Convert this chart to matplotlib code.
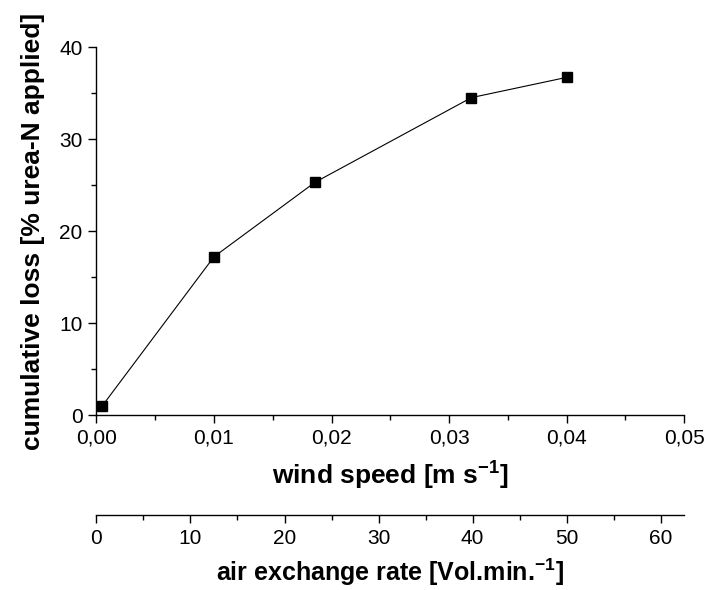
import matplotlib
matplotlib.use("Agg")
import matplotlib.pyplot as plt
from matplotlib.ticker import MultipleLocator, FuncFormatter

# data
wind_speed = [0.0005, 0.0100, 0.0186, 0.0319, 0.0400]   # m s-1
loss = [1.0, 17.2, 25.3, 34.5, 36.7]                      # % urea-N applied

# wind speed -> air exchange rate (Vol. min-1)
exch_factor = 1250.0
air_ticks = [0, 10, 20, 30, 40, 50, 60]

plt.rcParams['font.family'] = ['Liberation Sans', 'DejaVu Sans']
plt.rcParams['mathtext.fontset'] = 'custom'
plt.rcParams['mathtext.rm'] = 'Liberation Sans'
plt.rcParams['mathtext.bf'] = 'Liberation Sans:bold'


def comma(v, pos):
    return f"{v:.2f}".replace('.', ',')


fig = plt.figure(figsize=(7.09, 5.90), dpi=100)
ax = fig.add_axes([0.136, 0.2966, 0.829, 0.6237])

ax.plot(wind_speed, loss, color='black', linewidth=0.8,
        marker='s', markersize=7, markerfacecolor='black', markeredgecolor='black')

ax.set_xlim(0, 0.05)
ax.set_ylim(0, 40)
ax.xaxis.set_major_locator(MultipleLocator(0.01))
ax.xaxis.set_minor_locator(MultipleLocator(0.005))
ax.yaxis.set_major_locator(MultipleLocator(10))
ax.yaxis.set_minor_locator(MultipleLocator(5))
ax.xaxis.set_major_formatter(FuncFormatter(comma))

for s in ['top', 'right']:
    ax.spines[s].set_visible(False)
for s in ['left', 'bottom']:
    ax.spines[s].set_linewidth(1.0)

ax.tick_params(which='major', direction='out', length=6, width=1.0, labelsize=15, pad=4)
ax.tick_params(which='minor', direction='out', length=3.5, width=1.0)

ax.set_xlabel(r'wind speed [m s$^{\mathbf{-1}}$]', fontsize=19, fontweight='bold', labelpad=7)
ax.set_ylabel('cumulative loss [% urea-N applied]', fontsize=19, fontweight='bold')
ax.yaxis.set_label_coords(-0.088, 0.5)

# second x axis below: air exchange rate
sec = ax.secondary_xaxis(-0.272, functions=(lambda w: w * exch_factor, lambda a: a / exch_factor))
sec.set_xticks(air_ticks)
sec.xaxis.set_minor_locator(MultipleLocator(5))
sec.spines['bottom'].set_linewidth(1.0)
sec.tick_params(which='major', direction='out', length=6, width=1.0, labelsize=15, pad=4)
sec.tick_params(which='minor', direction='out', length=3.5, width=1.0)
sec.set_xlabel(r'air exchange rate [Vol.min.$^{\mathbf{-1}}$]', fontsize=18, fontweight='bold', labelpad=6)

fig.savefig('out.png', dpi=100)
